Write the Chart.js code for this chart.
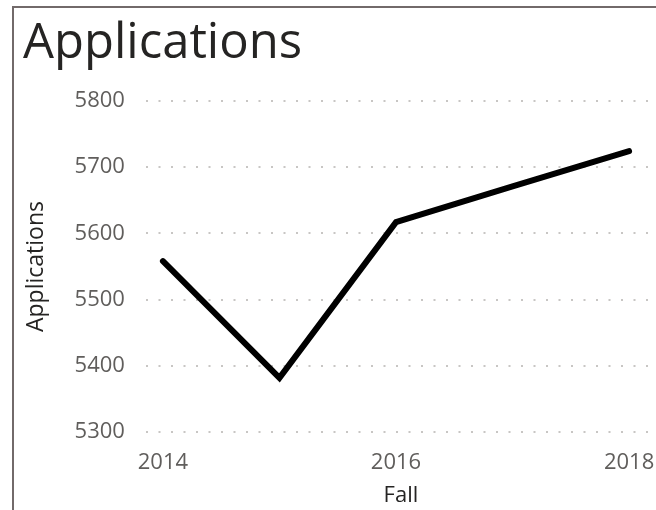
<!DOCTYPE html>
<html>
<head>
<meta charset="utf-8">
<script src="https://cdn.jsdelivr.net/npm/chart.js@4/dist/chart.umd.min.js"></script>
<style>
  html, body { margin: 0; padding: 0; background: #fff; overflow: hidden; }
  #wrap { position: relative; width: 656px; height: 510px; }
  #frame {
    position: absolute; left: 12px; top: 6px; right: -10px; bottom: -10px;
    border-left: 2px solid #726a6a; border-top: 2px solid #726a6a;
    pointer-events: none;
  }
  canvas { position: absolute; left: 0; top: 0; }
</style>
</head>
<body>
<div id="wrap">
  <canvas id="appChart" width="656" height="510"></canvas>
  <div id="frame"></div>
</div>
<script>
// Applications by fall term

const years = [2014, 2015, 2016, 2017, 2018];
const applications = [5558, 5382, 5617, 5671, 5724];
const yearTicks = [2014, 2016, 2018];

const font = "'Open Sans', 'Noto Sans', sans-serif";

const appChart = document.getElementById("appChart").getContext("2d");

new Chart(appChart, {
  type: "line",
  data: {
    datasets: [
      {
        label: "Applications",
        data: years.map((y, i) => ({ x: y, y: applications[i] })),
        borderColor: "#000000",
        borderWidth: 6,
        borderCapStyle: "round",
        borderJoinStyle: "miter",
        pointRadius: 0,
        fill: false,
        tension: 0,
      },
    ],
  },
  options: {
    responsive: false,
    animation: false,
    layout: {
      padding: { left: 23, right: 0, top: 0, bottom: 1 },
    },
    scales: {
      x: {
        type: "linear",
        min: 2013.854,
        max: 2018.231,
        afterBuildTicks: (axis) => {
          axis.ticks = yearTicks.map((v) => ({ value: v }));
        },
        afterFit: (axis) => {
          // let the last label sit at the edge like the original
          axis.paddingLeft = 0;
          axis.paddingRight = 0;
        },
        grid: { display: false },
        border: { display: false },
        ticks: {
          color: "#605e5c",
          font: { family: font, size: 22 },
          padding: 9,
          maxRotation: 0,
          callback: (v) => String(v),
        },
        title: {
          display: true,
          text: "Fall",
          color: "#252423",
          font: { family: font, size: 22 },
          padding: { top: -2, bottom: 0 },
        },
      },
      y: {
        min: 5300,
        max: 5800,
        ticks: {
          stepSize: 100,
          color: "#605e5c",
          font: { family: font, size: 22 },
          padding: 21,
          callback: (v) => String(v),
        },
        grid: {
          color: "#c8c6c4",
          lineWidth: 2,
          drawTicks: false,
        },
        border: { display: false, dash: [2, 10.5] },
        title: {
          display: true,
          text: "Applications",
          color: "#252423",
          font: { family: font, size: 23 },
          padding: { top: 0, bottom: 3 },
        },
      },
    },
    plugins: {
      legend: { display: false },
      tooltip: { enabled: false },
      title: {
        display: true,
        text: "Applications",
        align: "start",
        color: "#252423",
        font: { family: font, size: 49, weight: "normal" },
        padding: { top: 15, bottom: 27 },
      },
    },
  },
});
</script>
</body>
</html>
